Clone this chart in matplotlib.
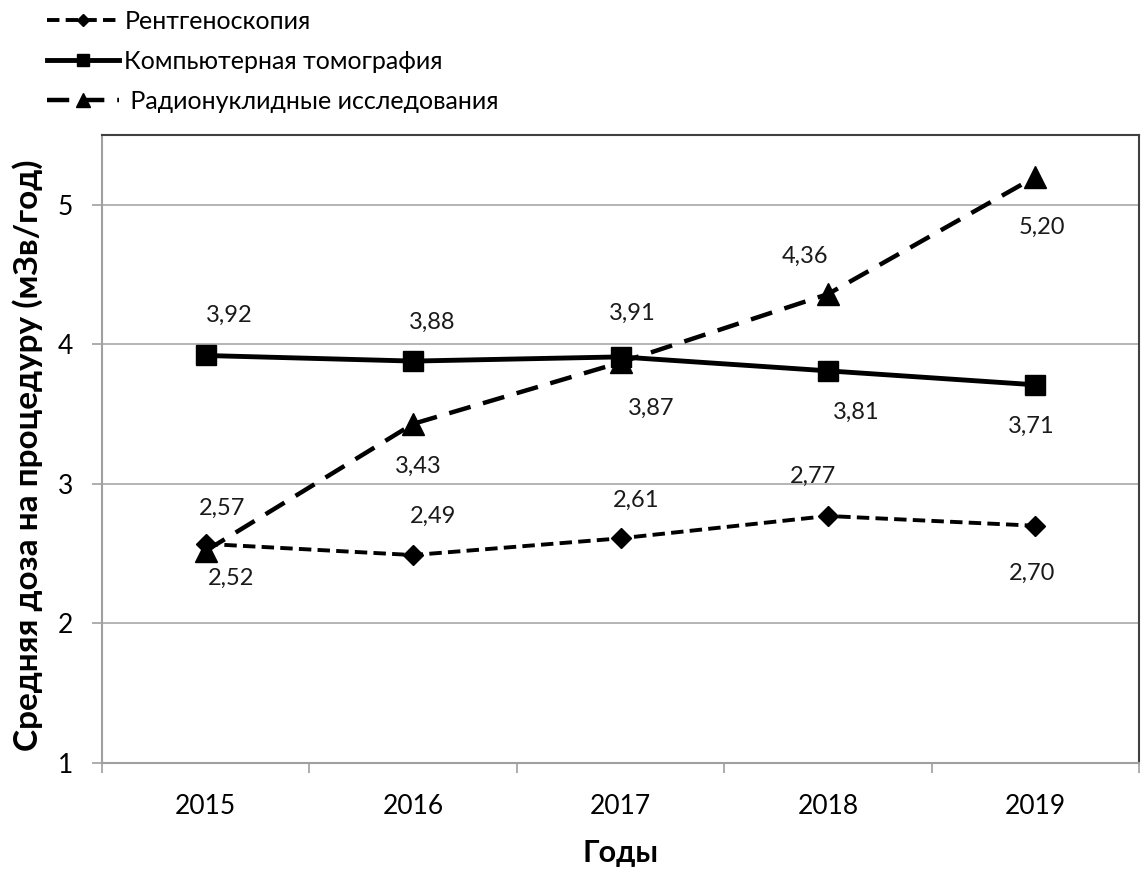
import matplotlib
matplotlib.use("Agg")
import matplotlib.pyplot as plt
import numpy as np

years = ["2015", "2016", "2017", "2018", "2019"]
rentgen = [2.57, 2.49, 2.61, 2.77, 2.70]
ct = [3.92, 3.88, 3.91, 3.81, 3.71]
radio = [2.52, 3.43, 3.87, 4.36, 5.20]
names = ["Рентгеноскопия", "Компьютерная томография", "Радионуклидные исследования"]
y_ticks = [1, 2, 3, 4, 5]

# label offsets in pixels (dx, dy) - styling
off_rentgen = [(16, 36), (20, 39), (16, 38), (-15, 40), (-3, -48)]
off_ct = [(24, 40), (19, 39), (12, 44), (28, -41), (-4, -42)]
off_radio = [(25, -27), (5, -42), (31, -46), (-23, 38), (7, -50)]

plt.rcParams['font.family'] = ['Lato', 'DejaVu Sans']

fig = plt.figure(figsize=(11.44, 8.77), dpi=100)
W, H = 1144, 877
ax = fig.add_axes([102 / W, 1 - 763 / H, (1139 - 102) / W, (763 - 135) / H])

x = np.arange(len(years)) + 0.5

l_radio, = ax.plot(x, radio, color='black', lw=3.2, linestyle=(0, (5.0, 2.9)),
                   marker='^', markersize=16, zorder=3, label=" " + names[2])
l_rent, = ax.plot(x, rentgen, color='black', lw=2.8, linestyle=(0, (3.2, 1.6)),
                  marker='D', markersize=10, zorder=4, label=names[0])
l_ct, = ax.plot(x, ct, color='black', lw=3.5, linestyle='-',
                marker='s', markersize=15, zorder=5, label=names[1])

def fmt(v):
    return f"{v:.2f}".replace('.', ',')

for vals, offs in ((rentgen, off_rentgen), (ct, off_ct), (radio, off_radio)):
    for xi, v, (dx, dy) in zip(x, vals, offs):
        ax.annotate(fmt(v), (xi, v), xytext=(dx * 0.72, dy * 0.72),
                    textcoords='offset points', ha='center', va='center',
                    fontsize=17, color='#1a1a1a')

ax.set_xlim(0, len(years))
ax.set_ylim(1, 5.5)
ax.set_yticks(y_ticks)
ax.set_yticklabels([str(t) for t in y_ticks], fontsize=19)
ax.set_xticks(x)
ax.set_xticklabels(years, fontsize=19)
ax.set_xticks(np.arange(0, len(years) + 1), minor=True)
ax.tick_params(axis='x', which='major', length=0, pad=22)
ax.tick_params(axis='x', which='minor', length=7, color='#a0a0a0', width=1.2)
ax.tick_params(axis='y', which='major', length=7, color='#a0a0a0', width=1.2, pad=14)

ax.yaxis.grid(True, color='#a8a8a8', lw=1.2)
ax.set_axisbelow(True)
for s in ('left', 'bottom'):
    ax.spines[s].set_color('#a0a0a0')
    ax.spines[s].set_linewidth(1.5)
for s in ('top', 'right'):
    ax.spines[s].set_color('#404040')
    ax.spines[s].set_linewidth(1.5)

ax.set_xlabel("Годы", fontsize=22, fontweight='bold')
ax.xaxis.set_label_coords(0.5, (763 - 853) / (763 - 135))
ax.set_ylabel("Средняя доза на процедуру (мЗв/год)", fontsize=24, fontweight='bold')
ax.yaxis.set_label_coords((28 - 102) / (1139 - 102), (763 - 455) / (763 - 135))
ax.xaxis.label.set_va('center')
ax.yaxis.label.set_va('center')

leg = fig.legend(handles=[l_rent, l_ct, l_radio], loc='upper left',
                 bbox_to_anchor=(42 / W, 1 - 5 / H), frameon=False, fontsize=18,
                 handlelength=2.9, handletextpad=0.2, labelspacing=0.68,
                 borderaxespad=0, borderpad=0.2, markerscale=0.6)

fig.savefig("out.png", dpi=100)
